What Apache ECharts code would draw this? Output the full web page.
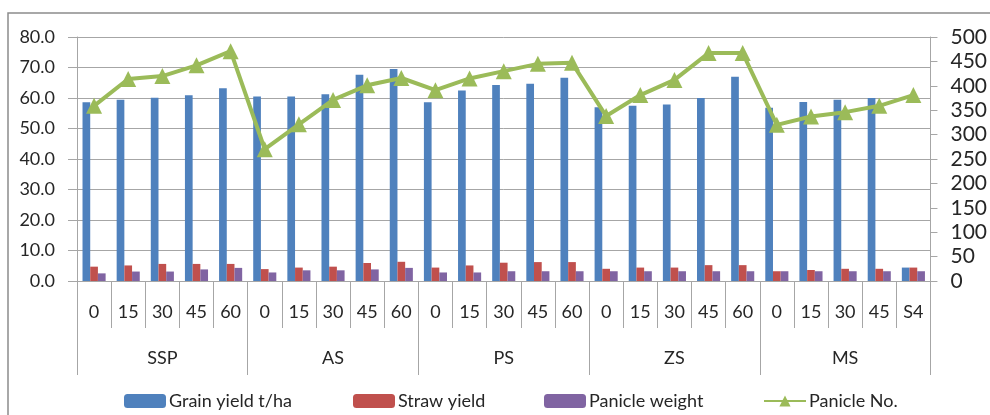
<!DOCTYPE html>
<html>
<head>
<meta charset="utf-8">
<script src="https://cdn.jsdelivr.net/npm/echarts@6/dist/echarts.min.js"></script>
<style>
  html, body { margin: 0; padding: 0; background: #ffffff; }
  #chart { width: 990px; height: 415px; }
</style>
</head>
<body>
<div id="chart"></div>
<script>
// Source groups and fertiliser doses (kg/ha) along the category axis
const groups = ['SSP', 'AS', 'PS', 'ZS', 'MS'];
const doses = ['0', '15', '30', '45', '60',
               '0', '15', '30', '45', '60',
               '0', '15', '30', '45', '60',
               '0', '15', '30', '45', '60',
               '0', '15', '30', '45', 'S4'];

// Left axis series
const grainYield = [58.6, 59.4, 60.1, 60.9, 63.2,
                    60.5, 60.5, 61.2, 67.6, 69.5,
                    58.6, 62.5, 64.3, 64.7, 66.6,
                    57.0, 57.5, 57.9, 60.0, 67.0,
                    56.8, 58.7, 59.4, 60.0, 4.4];
const strawYield = [4.7, 5.1, 5.6, 5.6, 5.6,
                    3.9, 4.4, 4.7, 5.9, 6.3,
                    4.4, 5.1, 6.0, 6.2, 6.2,
                    4.0, 4.4, 4.4, 5.2, 5.2,
                    3.2, 3.6, 4.0, 4.0, 4.4];
const panicleWeight = [2.5, 3.1, 3.1, 3.8, 4.3,
                       2.8, 3.5, 3.5, 3.8, 4.3,
                       2.8, 2.8, 3.2, 3.2, 3.2,
                       3.2, 3.2, 3.2, 3.2, 3.2,
                       3.2, 3.2, 3.2, 3.2, 3.2];
// Right axis series
const panicleNo = [359, 414, 420, 442, 471,
                   270, 321, 371, 401, 416,
                   391, 415, 430, 445, 447,
                   338, 381, 412, 467, 467,
                   320, 337, 346, 359, 381];

const FONT = 'Lato';
const TEXT = '#262626';
const GRID = '#a6a6a6';

const chart = echarts.init(document.getElementById('chart'), null, { renderer: 'canvas' });

const barSeries = (name, color, data) => ({
  name, type: 'bar', xAxisIndex: 0, yAxisIndex: 0,
  data, barWidth: 7.7, barGap: '0%',
  itemStyle: { color },
  emphasis: { disabled: true }
});

const legendBox = (name, left) => ({
  data: [name], left, top: 392, padding: 0,
  itemWidth: 42, itemHeight: 14, itemGap: 0,
  textStyle: { fontFamily: FONT, fontSize: 18, color: TEXT, padding: [0, 0, 0, -2] }
});

chart.setOption({
  animation: false,
  backgroundColor: '#ffffff',
  graphic: [{
    type: 'rect', z: -1,
    shape: { x: 8, y: 13, width: 1100, height: 500 },
    style: { fill: 'none', stroke: '#8c8c8c', lineWidth: 1.5 }
  }],
  grid: { left: 77, right: 52, top: 37, bottom: 134 },
  legend: [
    legendBox('Grain yield t/ha', 124),
    legendBox('Straw yield', 353),
    legendBox('Panicle weight', 544),
    legendBox('Panicle No.', 763)
  ],
  xAxis: [{
    type: 'category', data: doses, position: 'bottom', offset: 0,
    axisLine: { show: true, lineStyle: { color: GRID, width: 1 } },
    axisTick: { show: true, interval: 0, length: 47, lineStyle: { color: GRID } },
    axisLabel: { interval: 0, margin: 22, fontFamily: FONT, fontSize: 18, color: TEXT },
    splitLine: { show: false }
  }, {
    type: 'category', data: groups, position: 'bottom', offset: 0,
    axisLine: { show: false },
    axisTick: { show: true, interval: 0, length: 94, lineStyle: { color: GRID } },
    axisLabel: { interval: 0, margin: 68, fontFamily: FONT, fontSize: 18, color: TEXT },
    splitLine: { show: false }
  }],
  yAxis: [{
    type: 'value', min: 0, max: 80, interval: 10, position: 'left',
    axisLine: { show: true, lineStyle: { color: GRID } },
    axisTick: { show: true, length: 9, lineStyle: { color: GRID } },
    axisLabel: { margin: 22, fontFamily: FONT, fontSize: 18, color: TEXT,
                 formatter: v => v.toFixed(1) },
    splitLine: { show: true, lineStyle: { color: GRID, width: 1 } }
  }, {
    type: 'value', min: 0, max: 500, interval: 50, position: 'right',
    axisLine: { show: true, lineStyle: { color: GRID } },
    axisTick: { show: true, length: 7, lineStyle: { color: GRID } },
    axisLabel: { margin: 20, fontFamily: FONT, fontSize: 21, color: TEXT },
    splitLine: { show: false }
  }],
  series: [
    barSeries('Grain yield t/ha', '#4F81BD', grainYield),
    barSeries('Straw yield', '#C0504D', strawYield),
    barSeries('Panicle weight', '#8064A2', panicleWeight),
    {
      name: 'Panicle No.', type: 'line', xAxisIndex: 0, yAxisIndex: 1,
      data: panicleNo,
      symbol: 'triangle', symbolSize: 16,
      lineStyle: { color: '#9BBB59', width: 4 },
      itemStyle: { color: '#9BBB59' },
      emphasis: { disabled: true }
    }
  ]
});
</script>
</body>
</html>
